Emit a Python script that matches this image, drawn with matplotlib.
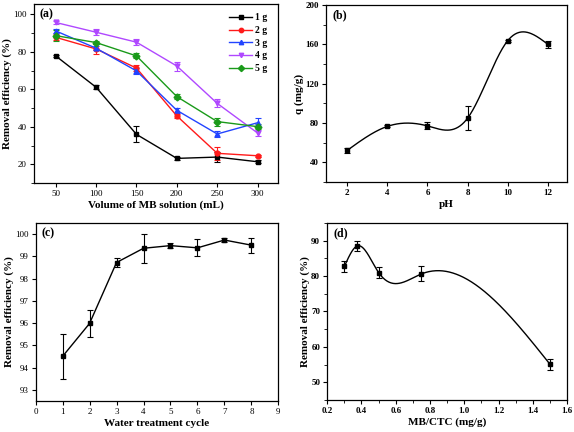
import numpy as np
import matplotlib
matplotlib.use('Agg')
import matplotlib.pyplot as plt
from matplotlib.ticker import MultipleLocator

plt.rcParams['font.family'] = ['Liberation Serif', 'DejaVu Serif']
plt.rcParams['font.weight'] = 'bold'
plt.rcParams['axes.labelweight'] = 'bold'

# (a) removal efficiency vs volume of MB solution
vol = [50, 100, 150, 200, 250, 300]
dose_labels = ['1 g', '2 g', '3 g', '4 g', '5 g']
eff_a = [
    [77.8, 61.1, 36.0, 23.2, 23.9, 21.4],
    [87.7, 81.5, 71.3, 45.8, 25.9, 24.6],
    [91.1, 81.9, 69.8, 48.8, 36.2, 42.2],
    [95.6, 90.4, 85.1, 72.4, 52.5, 36.7],
    [88.6, 84.9, 77.8, 56.1, 42.8, 40.1],
]
err_a = [
    [0.6, 1.2, 4.2, 1.0, 2.8, 0.8],
    [1.5, 2.6, 1.5, 1.2, 3.4, 0.6],
    [1.0, 1.0, 1.8, 1.2, 1.8, 2.3],
    [1.0, 1.5, 1.5, 2.4, 2.1, 1.5],
    [2.8, 1.0, 1.3, 1.5, 2.1, 1.2],
]
colors_a = ['#000000', '#ff1a1a', '#2244ff', '#b048ff', '#1a9a1a']
markers_a = ['s', 'o', '^', 'v', 'D']

# (b) q vs pH
ph = [2, 4, 6, 8, 10, 12]
q = [52, 76.5, 77, 85, 164, 160]
q_err = [3.0, 1.0, 3.5, 12.0, 1.0, 4.0]

# (c) removal efficiency vs water treatment cycle
cycle = [1, 2, 3, 4, 5, 6, 7, 8]
eff_c = [94.5, 95.98, 98.72, 99.36, 99.48, 99.38, 99.73, 99.5]
err_c = [1.0, 0.62, 0.2, 0.65, 0.1, 0.38, 0.08, 0.33]

# (d) removal efficiency vs MB/CTC
ratio = [0.3, 0.375, 0.5, 0.75, 1.5]
eff_d = [82.7, 88.5, 81.0, 80.6, 55.1]
err_d = [1.5, 1.4, 1.6, 2.1, 1.6]

LABEL_FS = 8
TICK_FS = 6.5


def natural_spline(x, y, n=300):
    x = np.asarray(x, float)
    y = np.asarray(y, float)
    h = np.diff(x)
    m = len(x)
    A = np.zeros((m, m))
    r = np.zeros(m)
    A[0, 0] = A[-1, -1] = 1.0
    for i in range(1, m - 1):
        A[i, i - 1] = h[i - 1]
        A[i, i] = 2 * (h[i - 1] + h[i])
        A[i, i + 1] = h[i]
        r[i] = 6 * ((y[i + 1] - y[i]) / h[i] - (y[i] - y[i - 1]) / h[i - 1])
    M = np.linalg.solve(A, r)
    xs = np.linspace(x[0], x[-1], n)
    k = np.clip(np.searchsorted(x, xs) - 1, 0, m - 2)
    t0 = x[k + 1] - xs
    t1 = xs - x[k]
    hk = h[k]
    ys = (M[k] * t0 ** 3 + M[k + 1] * t1 ** 3) / (6 * hk) \
        + (y[k] / hk - M[k] * hk / 6) * t0 + (y[k + 1] / hk - M[k + 1] * hk / 6) * t1
    return xs, ys


def style(ax, bold_ticks=True):
    ax.tick_params(direction='out', length=3, width=0.8, labelsize=TICK_FS, pad=2)
    ax.tick_params(which='minor', direction='out', length=2, width=0.6)
    for s in ax.spines.values():
        s.set_linewidth(0.9)
    for lab in ax.get_xticklabels() + ax.get_yticklabels():
        lab.set_fontweight('bold' if bold_ticks else 'normal')


def panel_tag(ax, s):
    ax.text(0.025, 0.975, s, transform=ax.transAxes, fontsize=8.5,
            fontweight='bold', va='top', ha='left')


fig = plt.figure(figsize=(5.74, 4.32), dpi=100)
ax_a = fig.add_axes([0.059, 0.576, 0.425, 0.415])
ax_b = fig.add_axes([0.568, 0.579, 0.420, 0.409])
ax_c = fig.add_axes([0.062, 0.072, 0.423, 0.412])
ax_d = fig.add_axes([0.570, 0.074, 0.418, 0.410])

# --- (a) ---
lines_a = []
for yv, ev, c, mk, lb in zip(eff_a, err_a, colors_a, markers_a, dose_labels):
    eb = ax_a.errorbar(vol, yv, yerr=ev, color=c, marker=mk, ms=3.5, lw=1.0,
                       elinewidth=0.8, capsize=2, capthick=0.8)
    lines_a.append(eb.lines[0])
ax_a.set_xlim(23, 325)
ax_a.set_ylim(10, 105.5)
ax_a.set_xticks(vol)
ax_a.yaxis.set_major_locator(MultipleLocator(20))
ax_a.yaxis.set_minor_locator(MultipleLocator(10))
ax_a.set_xlabel('Volume of MB solution (mL)', fontsize=LABEL_FS, labelpad=2)
ax_a.set_ylabel('Removal efficiency (%)', fontsize=LABEL_FS, labelpad=1)
panel_tag(ax_a, '(a)')
ax_a.legend(lines_a, dose_labels, loc='upper right',
            bbox_to_anchor=(0.985, 0.985), frameon=False,
            prop={'size': 7, 'weight': 'bold'}, handlelength=2.4,
            labelspacing=0.38, borderaxespad=0.3, handletextpad=0.3,
            markerscale=0.9)
style(ax_a, bold_ticks=False)

# --- (b) ---
xs, ys = natural_spline(ph, q)
ax_b.plot(xs, ys, color='black', lw=1.0)
ax_b.errorbar(ph, q, yerr=q_err, fmt='s', color='black', ms=3.5,
              elinewidth=0.8, capsize=2, capthick=0.8)
ax_b.set_xlim(0.95, 12.95)
ax_b.set_ylim(20, 200)
ax_b.set_xticks(ph)
ax_b.yaxis.set_major_locator(MultipleLocator(40))
ax_b.yaxis.set_minor_locator(MultipleLocator(20))
ax_b.set_xlabel('pH', fontsize=LABEL_FS, labelpad=2)
ax_b.set_ylabel('q (mg/g)', fontsize=LABEL_FS, labelpad=1)
panel_tag(ax_b, '(b)')
style(ax_b)

# --- (c) ---
ax_c.errorbar(cycle, eff_c, yerr=err_c, color='black', marker='s', ms=3.5,
              lw=1.0, elinewidth=0.8, capsize=2, capthick=0.8)
ax_c.set_xlim(0, 9)
ax_c.set_ylim(92.5, 100.5)
ax_c.xaxis.set_major_locator(MultipleLocator(1))
ax_c.yaxis.set_major_locator(MultipleLocator(1))
ax_c.set_xlabel('Water treatment cycle', fontsize=LABEL_FS, labelpad=2)
ax_c.set_ylabel('Removal efficiency (%)', fontsize=LABEL_FS, labelpad=1)
panel_tag(ax_c, '(c)')
style(ax_c, bold_ticks=False)

# --- (d) ---
xs, ys = natural_spline(ratio, eff_d)
ax_d.plot(xs, ys, color='black', lw=1.0)
ax_d.errorbar(ratio, eff_d, yerr=err_d, fmt='s', color='black', ms=3.5,
              elinewidth=0.8, capsize=2, capthick=0.8)
ax_d.set_xlim(0.2, 1.6)
ax_d.set_ylim(45, 95)
ax_d.xaxis.set_major_locator(MultipleLocator(0.2))
ax_d.xaxis.set_minor_locator(MultipleLocator(0.1))
ax_d.yaxis.set_major_locator(MultipleLocator(10))
ax_d.yaxis.set_minor_locator(MultipleLocator(5))
ax_d.set_xlabel('MB/CTC (mg/g)', fontsize=LABEL_FS, labelpad=2)
ax_d.set_ylabel('Removal efficiency (%)', fontsize=LABEL_FS, labelpad=1)
panel_tag(ax_d, '(d)')
style(ax_d)

fig.savefig('out.png', dpi=100)
